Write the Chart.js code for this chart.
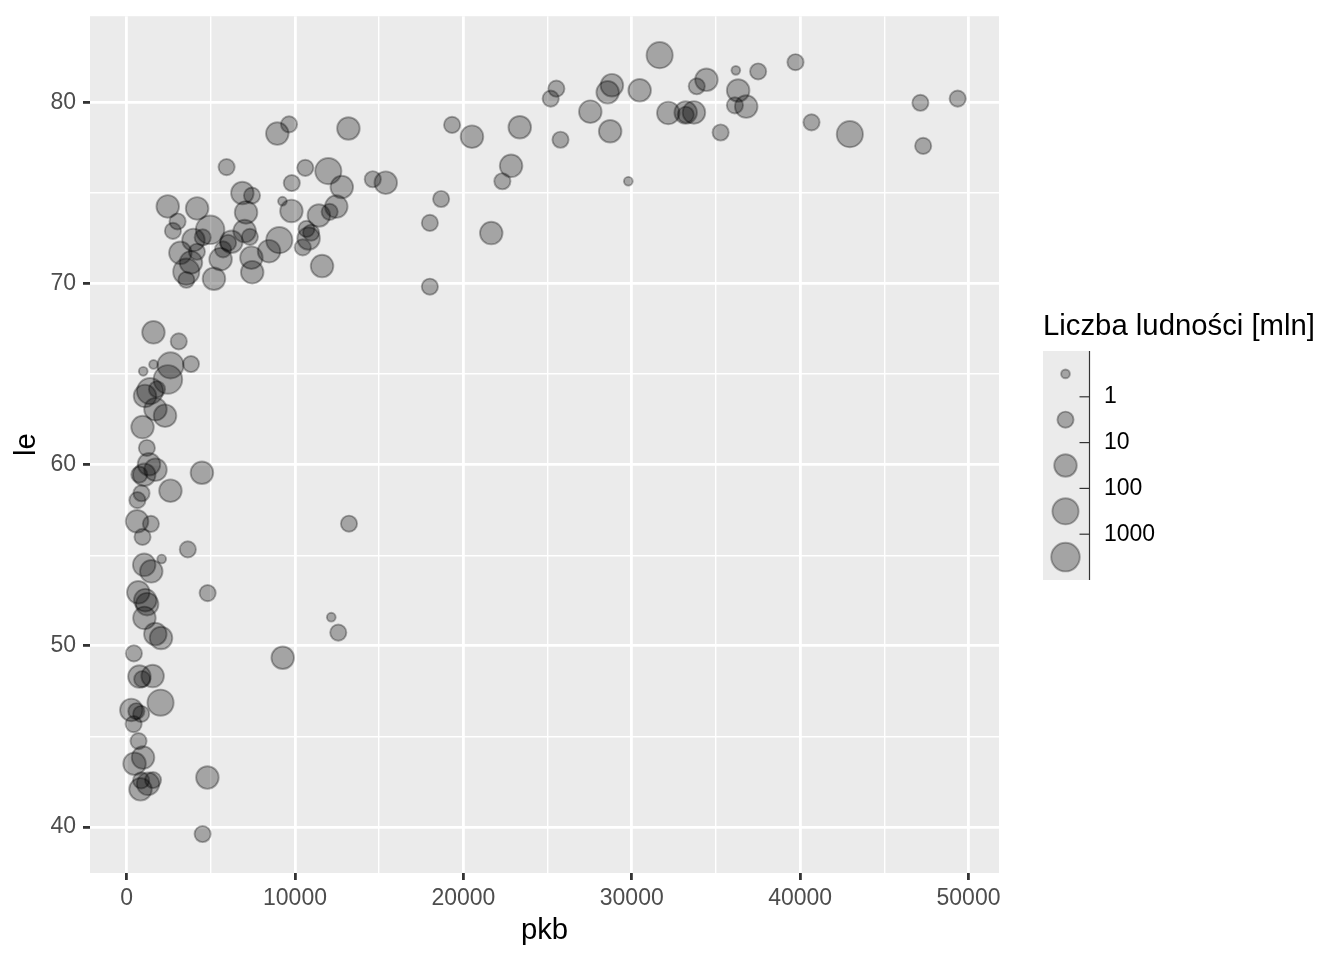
<!DOCTYPE html>
<html>
<head>
<meta charset="utf-8">
<script src="https://cdn.jsdelivr.net/npm/chart.js@4"></script>
<style>
  html, body { margin: 0; padding: 0; background: #fff; }
  #wrap { width: 1344px; height: 960px; }
</style>
</head>
<body>
<div id="wrap"><canvas id="chart" width="1344" height="960"></canvas></div>
<script>
// pkb (GDP per capita), le (life expectancy), population in mln
const countries = ["Afghanistan","Albania","Algeria","Angola","Argentina","Australia","Austria","Bahrain","Bangladesh","Belgium",
  "Benin","Bolivia","Bosnia and Herzegovina","Botswana","Brazil","Bulgaria","Burkina Faso","Burundi","Cambodia","Cameroon",
  "Canada","Central African Republic","Chad","Chile","China","Colombia","Comoros","Congo, Dem. Rep.","Congo, Rep.","Costa Rica",
  "Cote d'Ivoire","Croatia","Cuba","Czech Republic","Denmark","Djibouti","Dominican Republic","Ecuador","Egypt","El Salvador",
  "Equatorial Guinea","Eritrea","Ethiopia","Finland","France","Gabon","Gambia","Germany","Ghana","Greece",
  "Guatemala","Guinea","Guinea-Bissau","Haiti","Honduras","Hong Kong, China","Hungary","Iceland","India","Indonesia",
  "Iran","Iraq","Ireland","Israel","Italy","Jamaica","Japan","Jordan","Kenya","Korea, Dem. Rep.",
  "Korea, Rep.","Kuwait","Lebanon","Lesotho","Liberia","Libya","Madagascar","Malawi","Malaysia","Mali",
  "Mauritania","Mauritius","Mexico","Mongolia","Montenegro","Morocco","Mozambique","Myanmar","Namibia","Nepal",
  "Netherlands","New Zealand","Nicaragua","Niger","Nigeria","Norway","Oman","Pakistan","Panama","Paraguay",
  "Peru","Philippines","Poland","Portugal","Puerto Rico","Romania","Rwanda","Sao Tome and Principe","Saudi Arabia",
  "Senegal","Serbia","Sierra Leone","Singapore","Slovak Republic","Slovenia","Somalia","South Africa","Spain","Sri Lanka",
  "Sudan","Swaziland","Sweden","Switzerland","Syria","Taiwan","Tanzania","Thailand","Togo","Trinidad and Tobago",
  "Tunisia","Turkey","Uganda","United Kingdom","United States","Uruguay","Venezuela","Vietnam","West Bank and Gaza","Yemen",
  "Zambia","Zimbabwe"];

const pkb = [975,5937,6223,4797,12779,34435,36126,29796,1391,33693,
  1441,3822,7446,12570,9066,10681,1217,430,1714,2042,
  36319,706,1704,13172,4959,7007,986,278,3633,9645,
  1545,14619,8948,22833,35278,2082,6025,6873,5581,5728,
  12154,641,691,33207,30470,13206,753,32170,1328,27538,
  5186,943,579,1202,3548,39725,18009,36181,2452,3541,
  11606,4471,40676,25523,28570,7321,31656,4519,1463,1593,
  23348,47307,10461,1569,415,12058,1045,759,12452,1043,
  1803,10957,11978,3096,9254,3820,824,944,4811,1091,
  36798,25185,2749,620,2014,49357,22316,2606,9809,4173,
  7409,3190,15390,20510,19329,10808,863,1598,21655,
  1712,9787,863,47143,18678,25768,926,9270,28821,3970,
  2602,4513,33860,37506,4185,28718,1107,7458,883,18009,
  7093,8458,1056,33203,42952,10611,11416,2442,3025,2281,
  1271,470];

const le = [43.83,76.42,72.30,42.73,75.32,81.24,79.83,75.64,64.06,79.44,
  56.73,65.55,74.85,50.73,72.39,73.01,52.30,49.58,59.72,50.43,
  80.65,44.74,50.65,78.55,72.96,72.89,65.15,46.46,55.32,78.78,
  48.33,75.75,78.27,76.49,78.33,54.79,72.24,74.99,71.34,71.88,
  51.58,58.04,52.95,79.31,80.66,56.74,59.45,79.41,60.02,79.48,
  70.26,56.01,46.39,60.92,70.20,82.21,73.34,81.76,64.70,70.65,
  70.96,59.55,78.89,80.75,80.55,72.57,82.60,72.54,54.11,67.30,
  78.62,77.59,71.99,42.59,45.68,73.95,59.44,48.30,74.24,54.47,
  64.16,72.80,76.20,66.80,74.54,71.16,42.08,62.07,52.91,63.79,
  79.76,80.20,72.90,56.87,46.86,80.20,75.64,65.48,75.54,71.75,
  71.42,71.69,75.56,78.10,78.75,72.48,46.24,65.53,72.78,
  63.06,74.00,42.57,79.97,74.66,77.93,48.16,49.34,80.94,72.40,
  58.56,39.61,80.88,81.70,74.14,78.40,52.52,70.62,58.42,69.82,
  73.92,71.78,51.54,79.43,78.24,76.38,73.75,74.25,73.42,62.70,
  42.38,43.49];

const popMln = [31.89,3.60,33.33,12.42,40.30,20.43,8.20,0.71,150.45,10.39,
  8.08,9.12,4.55,1.64,190.01,7.32,14.33,8.39,14.13,17.70,
  33.39,4.37,10.24,16.28,1318.68,44.23,0.71,64.61,3.80,4.13,
  18.01,4.49,11.42,10.23,5.47,0.50,9.32,13.76,80.26,6.94,
  0.55,4.91,76.51,5.24,61.08,1.45,1.69,82.40,22.87,10.71,
  12.57,9.95,1.47,8.50,7.48,6.98,9.96,0.30,1110.40,223.55,
  69.45,27.50,4.11,6.43,58.15,2.78,127.47,6.05,35.61,23.30,
  49.04,2.51,3.92,2.01,3.19,6.04,19.17,13.33,24.82,12.03,
  3.27,1.25,108.70,2.87,0.68,33.76,19.95,47.76,2.06,28.90,
  16.57,4.12,5.68,12.89,135.03,4.63,3.20,169.27,3.24,6.67,
  28.67,91.08,38.52,10.64,3.94,22.28,8.86,0.20,27.60,
  12.27,10.15,6.14,4.55,5.45,2.01,9.12,44.00,40.45,20.38,
  42.29,1.13,9.03,7.55,19.31,23.17,38.14,65.07,5.70,1.06,
  10.28,71.16,29.17,60.78,301.14,3.45,26.08,85.26,4.02,22.21,
  11.75,12.31];

const xBreaks = [0, 10000, 20000, 30000, 40000, 50000];
const xMinor = [5000, 15000, 25000, 35000, 45000];
const yBreaks = [40, 50, 60, 70, 80];
const yMinor = [45, 55, 65, 75];
const sizeBreaks = [1, 10, 100, 1000];
const sizeLabels = ["1", "10", "100", "1000"];
const legendTitle = "Liczba ludności [mln]";

// point radius for each size bin (px, to the middle of the outline)
const binRadius = [4.4, 8.1, 11.3, 13.1, 14.3];
const fillCol = "rgba(0,0,0,0.3)";
const FONT = "'Liberation Sans', Arial, sans-serif";

function binOf(v) {
  let b = 0;
  sizeBreaks.forEach(br => { if (v >= br) b++; });
  return b;
}

// ggplot default expansion: 5% of the data range
function expand(arr) {
  const lo = Math.min(...arr), hi = Math.max(...arr);
  const pad = (hi - lo) * 0.05;
  return [lo - pad, hi + pad];
}
const xLim = expand(pkb);
const yLim = expand(le);

const points = pkb.map((x, i) => ({ x: x, y: le[i] }));

/* tlo panelu */
const panelBg = {
  id: "panelBg",
  beforeDraw(chart) {
    const a = chart.chartArea, c = chart.ctx;
    c.save();
    c.fillStyle = "#EBEBEB";
    c.fillRect(a.left, a.top, a.right - a.left, a.bottom - a.top);
    c.restore();
  }
};

/* legenda w stylu guide_bins */
const binLegend = {
  id: "binLegend",
  afterDraw(chart) {
    const c = chart.ctx;
    const left = 1043, top = 351, keyW = 46, keyH = 45.8;
    const n = sizeBreaks.length + 1;
    c.save();
    c.fillStyle = "#000";
    c.font = "29.3px " + FONT;
    c.textBaseline = "alphabetic";
    c.textAlign = "left";
    c.fillText(legendTitle, left, 335);

    c.fillStyle = "#EBEBEB";
    c.fillRect(left, top, keyW, keyH * n);

    for (let i = 0; i < n; i++) {
      c.beginPath();
      c.arc(left + 22.5, top + keyH * (i + 0.5), binRadius[i], 0, Math.PI * 2);
      c.fillStyle = fillCol;
      c.fill();
      c.lineWidth = 1.9;
      c.strokeStyle = fillCol;
      c.stroke();
    }

    const axX = left + keyW + 0.5;
    c.strokeStyle = "#333333";
    c.lineWidth = 1.2;
    c.beginPath();
    c.moveTo(axX, top);
    c.lineTo(axX, top + keyH * n);
    c.stroke();

    c.fillStyle = "#000";
    c.font = "23px " + FONT;
    c.textBaseline = "middle";
    sizeLabels.forEach((lab, i) => {
      const y = top + keyH * (i + 1);
      c.beginPath();
      c.moveTo(axX - 10, y);
      c.lineTo(axX, y);
      c.stroke();
      c.fillText(lab, left + 61, y);
    });
    c.restore();
  }
};

function axisOpts(lim, major, minor, title) {
  return {
    type: "linear",
    min: lim[0],
    max: lim[1],
    afterBuildTicks: s => {
      s.ticks = major.concat(minor).sort((a, b) => a - b).map(v => ({ value: v }));
    },
    grid: {
      color: "#FFFFFF",
      lineWidth: ctx => major.includes(ctx.tick.value) ? 2.8 : 1.4,
      drawTicks: true,
      tickLength: 7,
      tickWidth: 2.8,
      tickColor: ctx => major.includes(ctx.tick.value) ? "#333333" : "rgba(0,0,0,0)"
    },
    border: { display: false },
    ticks: {
      autoSkip: false,
      maxRotation: 0,
      color: "#4D4D4D",
      font: { family: FONT, size: 23 },
      callback: v => major.includes(v) ? String(v) : ""
    },
    title: {
      display: true,
      text: title,
      color: "#000000",
      font: { family: FONT, size: 29.3 }
    }
  };
}

const xOpts = axisOpts(xLim, xBreaks, xMinor, "pkb");
xOpts.ticks.padding = 4.5;
xOpts.title.padding = { top: 0, bottom: 11.5 };
xOpts.afterFit = s => {
  s.height = 87;
  s.paddingLeft = 0; s.paddingRight = 0;
};

const yOpts = axisOpts(yLim, yBreaks, yMinor, "le");
yOpts.ticks.padding = 7;
yOpts.title.padding = { top: 9, bottom: 0 };
yOpts.afterFit = s => {
  s.width = 90;
  s.paddingTop = 0; s.paddingBottom = 0;
};

new Chart(document.getElementById("chart"), {
  type: "scatter",
  data: {
    datasets: [{
      label: "pkb vs le",
      data: points,
      backgroundColor: fillCol,
      borderColor: fillCol,
      borderWidth: 1.9,
      pointRadius: ctx => binRadius[binOf(popMln[ctx.dataIndex])],
      pointHoverRadius: ctx => binRadius[binOf(popMln[ctx.dataIndex])],
      clip: false
    }]
  },
  options: {
    responsive: false,
    animation: false,
    devicePixelRatio: 1,
    events: [],
    layout: { padding: { top: 15, right: 345, bottom: 0, left: 0 } },
    plugins: {
      legend: { display: false },
      tooltip: { enabled: false }
    },
    scales: { x: xOpts, y: yOpts }
  },
  plugins: [panelBg, binLegend]
});
</script>
</body>
</html>
